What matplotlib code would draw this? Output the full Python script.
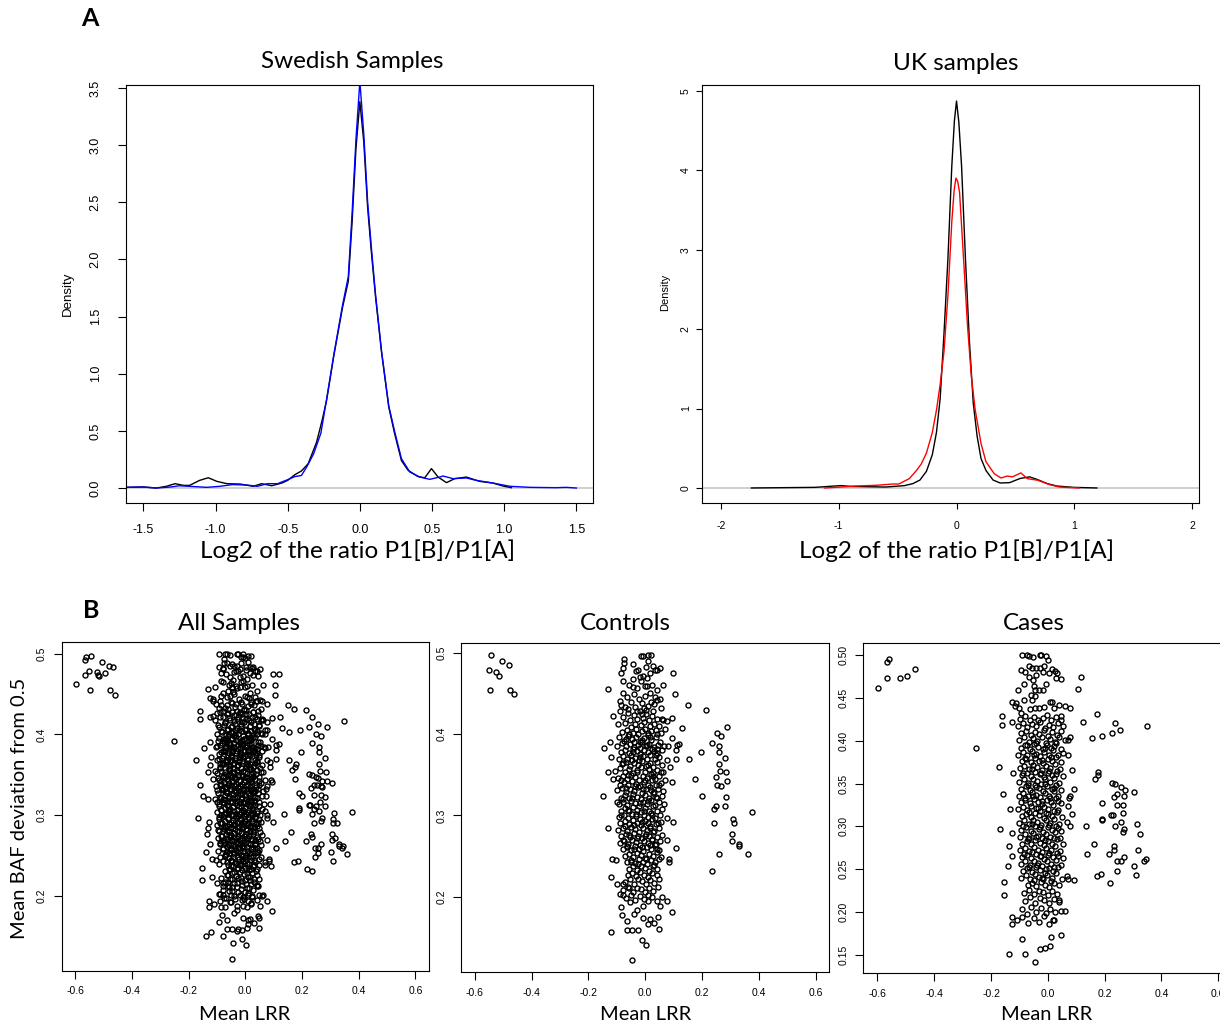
import matplotlib.pyplot as plt

W, H = 1220, 1028
plt.rcParams['font.family'] = ['Liberation Sans', 'DejaVu Sans']
TXT = ['Lato', 'DejaVu Sans']

# ---------------- panel A : density of log2 ratio ----------------
swe_black_x = [-1.70, -1.615, -1.50, -1.41, -1.34, -1.28, -1.22, -1.18, -1.11, -1.05, -0.99, -0.92,
               -0.83, -0.74, -0.68, -0.61, -0.54, -0.50, -0.45, -0.405, -0.358, -0.30, -0.26, -0.23,
               -0.18, -0.12, -0.08, -0.054, -0.027, 0.0, 0.027, 0.054, 0.08, 0.108, 0.15, 0.20, 0.24,
               0.288, 0.334, 0.403, 0.45, 0.496, 0.542, 0.60, 0.657, 0.738, 0.83, 0.92, 0.99, 1.05]
swe_black_y = [0.006, 0.006, 0.009, 0.0, 0.015, 0.038, 0.023, 0.023, 0.067, 0.09, 0.058, 0.038,
               0.035, 0.015, 0.038, 0.02, 0.044, 0.067, 0.117, 0.149, 0.213, 0.40, 0.60, 0.77,
               1.16, 1.58, 1.81, 2.32, 2.97, 3.38, 3.03, 2.45, 2.06, 1.68, 1.19, 0.71, 0.48,
               0.24, 0.155, 0.10, 0.09, 0.17, 0.096, 0.047, 0.082, 0.096, 0.058, 0.044, 0.018, 0.003]
swe_blue_x = [-1.70, -1.615, -1.50, -1.41, -1.31, -1.25, -1.18, -1.06, -0.97, -0.88, -0.78, -0.71,
              -0.64, -0.57, -0.50, -0.45, -0.405, -0.37, -0.32, -0.27, -0.23, -0.18, -0.12, -0.08,
              -0.054, -0.027, 0.0, 0.027, 0.054, 0.08, 0.108, 0.15, 0.20, 0.24, 0.288, 0.346, 0.415,
              0.484, 0.553, 0.576, 0.646, 0.738, 0.807, 0.92, 1.04, 1.18, 1.36, 1.43, 1.50]
swe_blue_y = [0.006, 0.006, 0.009, 0.0, 0.009, 0.02, 0.015, 0.006, 0.015, 0.03, 0.026, 0.015,
              0.038, 0.038, 0.073, 0.10, 0.11, 0.18, 0.30, 0.48, 0.78, 1.17, 1.60, 1.85,
              2.40, 3.05, 3.56, 3.10, 2.50, 2.10, 1.70, 1.20, 0.72, 0.50, 0.257, 0.14, 0.096,
              0.076, 0.096, 0.105, 0.082, 0.088, 0.067, 0.044, 0.015, 0.006, 0.003, 0.006, 0.0]

uk_black_x = [-1.74, -1.2, -0.98, -0.9, -0.6, -0.44, -0.37, -0.31, -0.255, -0.205, -0.17, -0.139,
              -0.106, -0.073, -0.04, -0.018, 0.0, 0.02, 0.043, 0.076, 0.109, 0.142, 0.175, 0.208,
              0.25, 0.31, 0.37, 0.45, 0.54, 0.62, 0.68, 0.77, 0.85, 0.99, 1.19]
uk_black_y = [0.0, 0.008, 0.03, 0.02, 0.012, 0.03, 0.055, 0.10, 0.21, 0.42, 0.70, 1.12,
              1.95, 2.88, 4.05, 4.62, 4.87, 4.60, 4.05, 2.88, 1.86, 1.07, 0.65, 0.37,
              0.22, 0.10, 0.063, 0.067, 0.12, 0.14, 0.11, 0.055, 0.025, 0.008, 0.0]
uk_red_x = [-1.12, -1.0, -0.85, -0.68, -0.54, -0.49, -0.40, -0.34, -0.30, -0.255, -0.205, -0.17,
            -0.139, -0.106, -0.073, -0.04, -0.02, -0.005, 0.01, 0.026, 0.06, 0.093, 0.126, 0.159,
            0.208, 0.25, 0.32, 0.377, 0.43, 0.475, 0.546, 0.60, 0.69, 0.79, 0.87, 0.92, 1.04]
uk_red_y = [0.0, 0.01, 0.025, 0.034, 0.05, 0.05, 0.118, 0.22, 0.30, 0.44, 0.70, 0.98,
            1.30, 1.72, 2.42, 3.35, 3.75, 3.90, 3.86, 3.72, 2.88, 2.05, 1.40, 0.98,
            0.56, 0.33, 0.18, 0.126, 0.15, 0.14, 0.19, 0.118, 0.097, 0.042, 0.013, 0.008, 0.0]

# ---------------- panel B : mean LRR vs mean BAF deviation ----------------
ctrl_pts = [
    # far left group
    (-0.544, 0.497), (-0.504, 0.490), (-0.479, 0.485), (-0.550, 0.479), (-0.524, 0.477),
    (-0.515, 0.472), (-0.547, 0.455), (-0.478, 0.455), (-0.461, 0.449),
    # right side
    (0.099, 0.475), (0.105, 0.449), (0.149, 0.436), (0.214, 0.430), (0.128, 0.408), (0.288, 0.409),
    (0.251, 0.401), (0.267, 0.398), (0.236, 0.389), (0.261, 0.385), (0.261, 0.378), (0.196, 0.378),
    (0.280, 0.371), (0.155, 0.369), (0.260, 0.363), (0.263, 0.355), (0.286, 0.354), (0.249, 0.347),
    (0.289, 0.342), (0.252, 0.338), (0.268, 0.336), (0.175, 0.345), (0.201, 0.324), (0.283, 0.323),
    (0.241, 0.308), (0.248, 0.311), (0.282, 0.311), (0.377, 0.304), (0.310, 0.295), (0.311, 0.290),
    (0.242, 0.291), (0.305, 0.277), (0.305, 0.269), (0.330, 0.265), (0.330, 0.262), (0.258, 0.253),
    (0.360, 0.252), (0.234, 0.231), (0.107, 0.260), (0.099, 0.292), (0.075, 0.297), (0.077, 0.270),
    (0.082, 0.246), (0.082, 0.243), (0.093, 0.341), (0.108, 0.381), (0.110, 0.387), (0.120, 0.388),
    (0.108, 0.370), (0.093, 0.395), (0.093, 0.420), (0.060, 0.419), (0.077, 0.416), (0.063, 0.461),
    (0.042, 0.479), (0.052, 0.481), (0.081, 0.385), (0.063, 0.353), (0.087, 0.360), (0.077, 0.194),
    (0.095, 0.181), (0.052, 0.188), (0.047, 0.160), (0.046, 0.175), (0.030, 0.167),
    # left edge and bottom of the cloud
    (-0.150, 0.324), (-0.146, 0.383), (-0.132, 0.456), (-0.130, 0.284), (-0.124, 0.391),
    (-0.115, 0.423), (-0.121, 0.156), (-0.119, 0.224), (-0.130, 0.354), (-0.116, 0.246),
    (-0.103, 0.245), (-0.101, 0.317), (-0.113, 0.345), (-0.121, 0.372), (-0.099, 0.216),
    (-0.089, 0.203), (-0.087, 0.187), (-0.081, 0.177), (-0.066, 0.170), (-0.066, 0.159),
    (-0.048, 0.122), (-0.011, 0.147), (0.002, 0.140), (-0.025, 0.159), (-0.047, 0.159),
    (-0.028, 0.183), (-0.077, 0.202), (-0.077, 0.216), (-0.056, 0.211), (-0.054, 0.193),
    (-0.040, 0.179), (-0.007, 0.173), (0.016, 0.172), (0.011, 0.166), (-0.007, 0.188), (0.011, 0.194),
    # top of the cloud
    (-0.080, 0.482), (-0.075, 0.488), (-0.074, 0.493), (-0.087, 0.476), (-0.045, 0.487), (-0.031, 0.478),
    (-0.025, 0.479), (-0.016, 0.496), (-0.007, 0.496), (0.011, 0.497), (0.019, 0.497), (0.011, 0.490),
    (0.026, 0.484), (0.034, 0.479), (0.006, 0.469), (-0.009, 0.472), (-0.042, 0.468), (0.003, 0.483),
    (-0.020, 0.471), (0.015, 0.476),
    (-0.080, 0.465), (-0.077, 0.451), (-0.058, 0.461), (-0.001, 0.459), (0.007, 0.460), (0.025, 0.461),
    (0.040, 0.454), (0.043, 0.442), (0.051, 0.443), (-0.065, 0.446), (-0.050, 0.440), (-0.040, 0.450),
    (-0.030, 0.457), (-0.022, 0.444), (-0.012, 0.438), (0.000, 0.447), (0.015, 0.451), (0.030, 0.437),
    (-0.070, 0.433), (-0.085, 0.436), (-0.060, 0.431), (-0.035, 0.434), (-0.005, 0.432), (0.020, 0.440),
    (0.035, 0.446), (-0.015, 0.465), (-0.090, 0.441), (0.055, 0.432), (0.010, 0.435), (-0.045, 0.458),
    # dense core
    (-0.088, 0.428), (-0.078, 0.421), (-0.070, 0.414), (-0.066, 0.405), (-0.060, 0.426), (-0.054, 0.418),
    (-0.050, 0.409), (-0.045, 0.402), (-0.040, 0.424), (-0.036, 0.413), (-0.032, 0.406), (-0.028, 0.419),
    (-0.024, 0.400), (-0.020, 0.428), (-0.016, 0.411), (-0.012, 0.404), (-0.008, 0.420), (-0.004, 0.415),
    (0.000, 0.407), (0.004, 0.425), (0.008, 0.401), (0.012, 0.418), (0.016, 0.410), (0.020, 0.404),
    (0.024, 0.422), (0.030, 0.413), (0.036, 0.405), (0.042, 0.419), (0.048, 0.410), (0.055, 0.402),
    (0.063, 0.418), (-0.083, 0.403), (-0.057, 0.400), (-0.030, 0.429), (0.002, 0.430), (0.028, 0.428),
    (0.070, 0.406), (-0.095, 0.412), (-0.010, 0.425), (0.040, 0.400),
    (-0.092, 0.396), (-0.075, 0.392), (-0.060, 0.398), (-0.048, 0.394), (-0.033, 0.397), (-0.020, 0.391),
    (-0.006, 0.395), (0.008, 0.399), (0.021, 0.393), (0.036, 0.397), (0.052, 0.391),
    (-0.100, 0.386), (-0.083, 0.389), (-0.068, 0.385), (-0.055, 0.388), (-0.041, 0.384), (-0.027, 0.387),
    (-0.013, 0.390), (0.001, 0.385), (0.014, 0.388), (0.029, 0.384), (0.045, 0.387), (0.065, 0.385),
    (-0.086, 0.378), (-0.072, 0.381), (-0.058, 0.377), (-0.045, 0.382), (-0.030, 0.379), (-0.017, 0.376),
    (-0.003, 0.381), (0.010, 0.378), (0.024, 0.382), (0.040, 0.377), (0.058, 0.380),
    (-0.094, 0.370), (-0.079, 0.373), (-0.064, 0.369), (-0.050, 0.374), (-0.037, 0.371), (-0.023, 0.368),
    (-0.009, 0.373), (0.005, 0.370), (0.018, 0.375), (0.033, 0.369), (0.049, 0.372), (0.075, 0.368),
    (-0.082, 0.363), (-0.067, 0.366), (-0.053, 0.361), (-0.040, 0.365), (-0.026, 0.362), (-0.012, 0.367),
    (0.002, 0.361), (0.015, 0.364), (0.028, 0.360), (0.043, 0.366), (0.060, 0.362),
    (-0.105, 0.355), (-0.088, 0.358), (-0.071, 0.353), (-0.057, 0.357), (-0.043, 0.352), (-0.029, 0.356),
    (-0.015, 0.359), (-0.001, 0.354), (0.012, 0.357), (0.026, 0.352), (0.041, 0.356), (0.056, 0.353),
    (-0.095, 0.346), (-0.078, 0.349), (-0.063, 0.345), (-0.049, 0.350), (-0.035, 0.347), (-0.021, 0.344),
    (-0.007, 0.349), (0.007, 0.346), (0.020, 0.351), (0.034, 0.345), (0.050, 0.348), (0.068, 0.344),
    (-0.090, 0.338), (-0.074, 0.341), (-0.060, 0.337), (-0.046, 0.342), (-0.032, 0.339), (-0.018, 0.336),
    (-0.004, 0.341), (0.009, 0.338), (0.022, 0.343), (0.037, 0.337), (0.054, 0.340),
    (-0.098, 0.331), (-0.082, 0.334), (-0.067, 0.329), (-0.053, 0.333), (-0.039, 0.330), (-0.025, 0.335),
    (-0.011, 0.328), (0.003, 0.332), (0.016, 0.335), (0.030, 0.329), (0.045, 0.333), (0.062, 0.330),
    (-0.087, 0.322), (-0.071, 0.325), (-0.057, 0.321), (-0.043, 0.326), (-0.029, 0.323), (-0.015, 0.320),
    (-0.001, 0.325), (0.012, 0.322), (0.026, 0.327), (0.041, 0.321), (0.058, 0.324),
    (-0.094, 0.314), (-0.079, 0.317), (-0.064, 0.313), (-0.050, 0.318), (-0.036, 0.315), (-0.022, 0.312),
    (-0.008, 0.317), (0.006, 0.314), (0.019, 0.319), (0.033, 0.313), (0.048, 0.316), (0.066, 0.314),
    (-0.085, 0.306), (-0.070, 0.309), (-0.056, 0.305), (-0.042, 0.310), (-0.028, 0.307), (-0.014, 0.304),
    (0.000, 0.309), (0.013, 0.306), (0.027, 0.311), (0.042, 0.305), (0.060, 0.308),
    (-0.092, 0.298), (-0.076, 0.301), (-0.062, 0.297), (-0.048, 0.302), (-0.034, 0.299), (-0.020, 0.296),
    (-0.006, 0.301), (0.008, 0.298), (0.021, 0.303), (0.035, 0.297), (0.051, 0.300),
    (-0.088, 0.290), (-0.073, 0.293), (-0.058, 0.289), (-0.044, 0.294), (-0.030, 0.291), (-0.016, 0.288),
    (-0.002, 0.293), (0.011, 0.290), (0.024, 0.295), (0.039, 0.289), (0.056, 0.292),
    (-0.095, 0.282), (-0.080, 0.285), (-0.065, 0.281), (-0.051, 0.286), (-0.037, 0.283), (-0.023, 0.280),
    (-0.009, 0.285), (0.005, 0.282), (0.018, 0.287), (0.032, 0.281), (0.047, 0.284),
    (-0.084, 0.274), (-0.069, 0.277), (-0.055, 0.273), (-0.041, 0.278), (-0.027, 0.275), (-0.013, 0.272),
    (0.001, 0.277), (0.014, 0.274), (0.028, 0.279), (0.043, 0.273), (0.059, 0.276),
    (-0.090, 0.266), (-0.075, 0.269), (-0.061, 0.265), (-0.047, 0.270), (-0.033, 0.267), (-0.019, 0.264),
    (-0.005, 0.269), (0.009, 0.266), (0.022, 0.271), (0.036, 0.265), (0.052, 0.268),
    (-0.078, 0.258), (-0.063, 0.261), (-0.049, 0.257), (-0.035, 0.262), (-0.021, 0.259), (-0.007, 0.256),
    (0.007, 0.261), (0.020, 0.258), (0.034, 0.263), (0.049, 0.257),
    (-0.072, 0.250), (-0.057, 0.253), (-0.043, 0.249), (-0.029, 0.254), (-0.015, 0.251), (-0.001, 0.248),
    (0.013, 0.253), (0.026, 0.250), (0.041, 0.255), (0.055, 0.249),
    (-0.065, 0.242), (-0.050, 0.245), (-0.036, 0.241), (-0.022, 0.246), (-0.008, 0.243), (0.006, 0.240),
    (0.020, 0.245), (0.035, 0.242), (0.050, 0.246),
    (-0.058, 0.234), (-0.043, 0.237), (-0.029, 0.233), (-0.015, 0.238), (-0.001, 0.235), (0.013, 0.232),
    (0.027, 0.237), (0.042, 0.234),
    (-0.062, 0.226), (-0.047, 0.229), (-0.033, 0.225), (-0.019, 0.230), (-0.005, 0.227), (0.009, 0.224),
    (0.023, 0.229), (0.040, 0.226),
    (-0.070, 0.218), (-0.055, 0.221), (-0.040, 0.216), (-0.026, 0.222), (-0.012, 0.219), (0.002, 0.215),
    (0.016, 0.220), (0.032, 0.217), (0.048, 0.221),
    (-0.078, 0.208), (-0.060, 0.212), (-0.045, 0.206), (-0.030, 0.211), (-0.016, 0.209), (-0.002, 0.205),
    (0.012, 0.210), (0.028, 0.207), (0.045, 0.212),
    (-0.068, 0.198), (-0.050, 0.202), (-0.035, 0.196), (-0.020, 0.201), (-0.004, 0.197), (0.010, 0.202),
    (0.025, 0.199), (0.040, 0.195), (0.060, 0.200),
    # extra overlap in the densest part
    (-0.067, 0.394), (-0.040, 0.390), (-0.013, 0.393), (0.015, 0.396), (0.042, 0.382),
    (-0.078, 0.365), (-0.046, 0.368), (-0.019, 0.372), (0.009, 0.362), (0.037, 0.374),
    (-0.060, 0.350), (-0.028, 0.353), (0.000, 0.344), (0.027, 0.348), (-0.085, 0.343),
    (-0.068, 0.334), (-0.036, 0.336), (-0.008, 0.333), (0.021, 0.331), (0.048, 0.338),
    (-0.077, 0.320), (-0.047, 0.322), (-0.020, 0.315), (0.008, 0.318), (0.036, 0.323),
    (-0.062, 0.307), (-0.033, 0.302), (-0.005, 0.305), (0.024, 0.300), (-0.085, 0.300),
    (-0.070, 0.287), (-0.040, 0.288), (-0.012, 0.292), (0.016, 0.285), (0.044, 0.290),
    (-0.058, 0.276), (-0.030, 0.272), (-0.002, 0.274), (0.025, 0.270), (-0.080, 0.270),
    (-0.066, 0.262), (-0.038, 0.258), (-0.010, 0.261), (0.018, 0.264), (0.040, 0.259),
    (-0.052, 0.243), (-0.024, 0.240), (0.004, 0.246), (0.030, 0.239),
    (-0.045, 0.378), (-0.020, 0.383), (0.005, 0.387), (0.030, 0.379),
]

case_pts = [
    # far left group
    (-0.598, 0.462), (-0.566, 0.492), (-0.560, 0.496), (-0.566, 0.473), (-0.521, 0.473),
    (-0.495, 0.476), (-0.468, 0.484),
    # left edge and bottom
    (-0.253, 0.392), (-0.173, 0.369), (-0.161, 0.429), (-0.161, 0.419), (-0.159, 0.338), (-0.167, 0.297),
    (-0.153, 0.235), (-0.153, 0.220), (-0.137, 0.151), (-0.128, 0.194), (-0.128, 0.186), (-0.126, 0.422),
    (-0.123, 0.362), (-0.132, 0.320), (-0.128, 0.292), (-0.136, 0.277), (-0.126, 0.265), (-0.140, 0.254),
    (-0.092, 0.168), (-0.079, 0.151), (-0.044, 0.142), (-0.028, 0.157), (-0.011, 0.158), (0.006, 0.160),
    (0.011, 0.171), (0.019, 0.190), (0.047, 0.173), (0.047, 0.201), (0.062, 0.201), (0.040, 0.214),
    (0.071, 0.238), (0.092, 0.237), (0.068, 0.242),
    # right side
    (0.118, 0.475), (0.106, 0.461), (0.124, 0.422), (0.078, 0.405), (0.071, 0.401), (0.071, 0.383),
    (0.086, 0.366), (0.092, 0.344), (0.077, 0.336), (0.074, 0.333), (0.072, 0.324), (0.086, 0.314),
    (0.068, 0.305), (0.077, 0.300), (0.136, 0.301), (0.163, 0.279), (0.139, 0.268), (0.173, 0.431),
    (0.156, 0.403), (0.192, 0.406), (0.225, 0.409), (0.235, 0.421), (0.255, 0.413), (0.348, 0.417),
    (0.178, 0.364), (0.175, 0.360), (0.166, 0.356), (0.226, 0.351), (0.237, 0.350), (0.258, 0.346),
    (0.271, 0.343), (0.305, 0.340), (0.242, 0.338), (0.232, 0.334), (0.269, 0.335), (0.191, 0.327),
    (0.244, 0.325), (0.266, 0.325), (0.224, 0.313), (0.228, 0.313), (0.264, 0.316), (0.189, 0.309),
    (0.190, 0.307), (0.259, 0.305), (0.314, 0.303), (0.236, 0.301), (0.269, 0.297), (0.266, 0.293),
    (0.324, 0.291), (0.233, 0.277), (0.234, 0.273), (0.316, 0.272), (0.216, 0.268), (0.268, 0.264),
    (0.258, 0.260), (0.245, 0.259), (0.346, 0.262), (0.340, 0.260), (0.302, 0.254), (0.245, 0.248),
    (0.309, 0.243), (0.172, 0.242), (0.186, 0.244), (0.219, 0.234),
    # top of the cloud
    (-0.091, 0.500), (-0.073, 0.500), (-0.065, 0.499), (-0.053, 0.498), (-0.029, 0.500), (-0.024, 0.500),
    (-0.007, 0.499), (0.000, 0.495), (-0.093, 0.483), (-0.079, 0.481), (-0.065, 0.488), (-0.055, 0.485),
    (-0.041, 0.485), (-0.028, 0.485), (-0.014, 0.488), (-0.018, 0.481), (0.004, 0.480), (0.015, 0.484),
    (0.024, 0.482), (0.033, 0.479), (0.027, 0.473), (0.045, 0.472), (-0.067, 0.475), (-0.053, 0.471),
    (-0.041, 0.477), (-0.085, 0.466), (-0.008, 0.466), (-0.105, 0.459), (-0.050, 0.464), (-0.046, 0.459),
    (-0.032, 0.460), (-0.018, 0.459), (-0.061, 0.454), (-0.044, 0.452), (-0.055, 0.448), (-0.126, 0.445),
    (-0.112, 0.444), (-0.114, 0.441), (-0.103, 0.438), (-0.094, 0.433), (-0.085, 0.448), (-0.064, 0.437),
    (-0.047, 0.439), (-0.032, 0.438), (-0.014, 0.440), (0.006, 0.446), (0.013, 0.445), (0.021, 0.438),
    (0.039, 0.442), (0.059, 0.441), (0.078, 0.438), (0.045, 0.429),
    # dense core
    (-0.098, 0.426), (-0.080, 0.429), (-0.064, 0.425), (-0.048, 0.428), (-0.033, 0.424), (-0.018, 0.427),
    (-0.003, 0.430), (0.012, 0.425), (0.028, 0.428), (0.045, 0.424),
    (-0.105, 0.418), (-0.088, 0.421), (-0.072, 0.416), (-0.057, 0.420), (-0.041, 0.417), (-0.026, 0.422),
    (-0.011, 0.415), (0.004, 0.419), (0.019, 0.416), (0.036, 0.421), (0.055, 0.418),
    (-0.093, 0.409), (-0.076, 0.412), (-0.060, 0.407), (-0.045, 0.411), (-0.030, 0.408), (-0.015, 0.413),
    (0.000, 0.406), (0.015, 0.410), (0.031, 0.407), (0.048, 0.412),
    (-0.100, 0.401), (-0.084, 0.404), (-0.068, 0.399), (-0.052, 0.403), (-0.037, 0.400), (-0.022, 0.405),
    (-0.007, 0.398), (0.008, 0.402), (0.024, 0.399), (0.040, 0.404), (0.060, 0.401),
    (-0.095, 0.392), (-0.079, 0.395), (-0.063, 0.391), (-0.048, 0.396), (-0.033, 0.393), (-0.018, 0.390),
    (-0.003, 0.395), (0.012, 0.392), (0.028, 0.397), (0.045, 0.391),
    (-0.104, 0.384), (-0.088, 0.387), (-0.072, 0.383), (-0.057, 0.388), (-0.042, 0.385), (-0.027, 0.382),
    (-0.012, 0.387), (0.003, 0.384), (0.019, 0.389), (0.036, 0.383), (0.055, 0.386),
    (-0.092, 0.376), (-0.076, 0.379), (-0.061, 0.375), (-0.046, 0.380), (-0.031, 0.377), (-0.016, 0.374),
    (-0.001, 0.379), (0.014, 0.376), (0.030, 0.381), (0.048, 0.375),
    (-0.099, 0.368), (-0.083, 0.371), (-0.067, 0.367), (-0.052, 0.372), (-0.037, 0.369), (-0.022, 0.366),
    (-0.007, 0.371), (0.008, 0.368), (0.024, 0.373), (0.042, 0.367),
    (-0.090, 0.360), (-0.074, 0.363), (-0.059, 0.359), (-0.044, 0.364), (-0.029, 0.361), (-0.014, 0.358),
    (0.001, 0.363), (0.016, 0.360), (0.033, 0.365), (0.052, 0.359),
    (-0.101, 0.352), (-0.085, 0.355), (-0.069, 0.351), (-0.054, 0.356), (-0.039, 0.353), (-0.024, 0.350),
    (-0.009, 0.355), (0.006, 0.352), (0.022, 0.357), (0.039, 0.351),
    (-0.094, 0.344), (-0.078, 0.347), (-0.062, 0.343), (-0.047, 0.348), (-0.032, 0.345), (-0.017, 0.342),
    (-0.002, 0.347), (0.013, 0.344), (0.029, 0.349), (0.047, 0.343),
    (-0.103, 0.336), (-0.087, 0.339), (-0.071, 0.335), (-0.056, 0.340), (-0.041, 0.337), (-0.026, 0.334),
    (-0.011, 0.339), (0.004, 0.336), (0.020, 0.341), (0.037, 0.335),
    (-0.096, 0.328), (-0.080, 0.331), (-0.064, 0.327), (-0.049, 0.332), (-0.034, 0.329), (-0.019, 0.326),
    (-0.004, 0.331), (0.011, 0.328), (0.027, 0.333), (0.045, 0.327),
    (-0.105, 0.320), (-0.089, 0.323), (-0.073, 0.319), (-0.058, 0.324), (-0.043, 0.321), (-0.028, 0.318),
    (-0.013, 0.323), (0.002, 0.320), (0.018, 0.325), (0.035, 0.319),
    (-0.092, 0.312), (-0.076, 0.315), (-0.060, 0.311), (-0.045, 0.316), (-0.030, 0.313), (-0.015, 0.310),
    (0.000, 0.315), (0.015, 0.312), (0.031, 0.317), (0.050, 0.311),
    (-0.100, 0.304), (-0.084, 0.307), (-0.068, 0.303), (-0.053, 0.308), (-0.038, 0.305), (-0.023, 0.302),
    (-0.008, 0.307), (0.007, 0.304), (0.023, 0.309), (0.041, 0.303),
    (-0.093, 0.296), (-0.077, 0.299), (-0.061, 0.295), (-0.046, 0.300), (-0.031, 0.297), (-0.016, 0.294),
    (-0.001, 0.299), (0.014, 0.296), (0.030, 0.301), (0.048, 0.295),
    (-0.098, 0.288), (-0.082, 0.291), (-0.066, 0.287), (-0.051, 0.292), (-0.036, 0.289), (-0.021, 0.286),
    (-0.006, 0.291), (0.009, 0.288), (0.025, 0.293), (0.043, 0.287),
    (-0.091, 0.280), (-0.075, 0.283), (-0.059, 0.279), (-0.044, 0.284), (-0.029, 0.281), (-0.014, 0.278),
    (0.001, 0.283), (0.016, 0.280), (0.032, 0.285), (0.052, 0.279),
    (-0.097, 0.272), (-0.081, 0.275), (-0.065, 0.271), (-0.050, 0.276), (-0.035, 0.273), (-0.020, 0.270),
    (-0.005, 0.275), (0.010, 0.272), (0.026, 0.277), (0.044, 0.271),
    (-0.090, 0.264), (-0.074, 0.267), (-0.058, 0.263), (-0.043, 0.268), (-0.028, 0.265), (-0.013, 0.262),
    (0.002, 0.267), (0.017, 0.264), (0.033, 0.269), (0.055, 0.263),
    (-0.096, 0.256), (-0.080, 0.259), (-0.064, 0.255), (-0.049, 0.260), (-0.034, 0.257), (-0.019, 0.254),
    (-0.004, 0.259), (0.011, 0.256), (0.027, 0.261), (0.046, 0.255),
    (-0.088, 0.248), (-0.072, 0.251), (-0.056, 0.247), (-0.041, 0.252), (-0.026, 0.249), (-0.011, 0.246),
    (0.004, 0.251), (0.019, 0.248), (0.036, 0.253),
    (-0.094, 0.240), (-0.078, 0.243), (-0.062, 0.239), (-0.047, 0.244), (-0.032, 0.241), (-0.017, 0.238),
    (-0.002, 0.243), (0.013, 0.240), (0.030, 0.245), (0.050, 0.239),
    (-0.070, 0.231), (-0.055, 0.234), (-0.040, 0.230), (-0.025, 0.235), (-0.010, 0.232), (0.005, 0.229),
    (0.020, 0.234), (0.038, 0.231),
    (-0.085, 0.222), (-0.065, 0.226), (-0.048, 0.221), (-0.032, 0.225), (-0.016, 0.223), (0.000, 0.220),
    (0.016, 0.224), (0.032, 0.221),
    (-0.080, 0.213), (-0.062, 0.217), (-0.045, 0.211), (-0.028, 0.216), (-0.012, 0.214), (0.005, 0.210),
    (0.022, 0.215), (0.040, 0.212),
    (-0.092, 0.203), (-0.075, 0.198), (-0.058, 0.206), (-0.040, 0.200), (-0.025, 0.205), (-0.008, 0.199),
    (0.008, 0.204), (0.025, 0.200),
    (-0.110, 0.190), (-0.090, 0.194), (-0.070, 0.187), (-0.050, 0.193), (-0.030, 0.188), (-0.012, 0.195),
    (0.005, 0.186), (0.022, 0.191),
    # extra overlap in the densest part
    (-0.072, 0.395), (-0.041, 0.398), (-0.010, 0.392), (0.020, 0.394),
    (-0.080, 0.380), (-0.050, 0.384), (-0.020, 0.378), (0.010, 0.381),
    (-0.088, 0.363), (-0.055, 0.367), (-0.025, 0.362), (0.005, 0.365), (0.030, 0.361),
    (-0.070, 0.349), (-0.040, 0.346), (-0.010, 0.350), (0.020, 0.345),
    (-0.082, 0.333), (-0.052, 0.336), (-0.022, 0.330), (0.008, 0.333), (0.035, 0.330),
    (-0.066, 0.317), (-0.036, 0.321), (-0.006, 0.316), (0.022, 0.318),
    (-0.086, 0.300), (-0.056, 0.303), (-0.026, 0.299), (0.004, 0.302), (0.034, 0.298),
    (-0.070, 0.285), (-0.040, 0.288), (-0.010, 0.284), (0.020, 0.287),
    (-0.085, 0.268), (-0.055, 0.270), (-0.025, 0.266), (0.005, 0.269), (0.035, 0.265),
    (-0.068, 0.252), (-0.038, 0.255), (-0.008, 0.250), (0.022, 0.253),
    (-0.050, 0.237), (-0.020, 0.240), (0.010, 0.236),
]

lrr_ticks = [-0.6, -0.4, -0.2, 0.0, 0.2, 0.4, 0.6]
lrr_labels = ['-0.6', '-0.4', '-0.2', '0.0', '0.2', '0.4', '0.6']

fig = plt.figure(figsize=(W / 100, H / 100), dpi=100)


def px_axes(l, t, r, b):
    return fig.add_axes([l / W, 1 - b / H, (r - l) / W, (b - t) / H])


def px_text(x, y, s, size, **kw):
    fig.text(x / W, 1 - y / H, s, ha='center', va='center', fontsize=size, **kw)


def r_style(ax, xt, xl, yt, yl, size, tlen, xpad, ypad):
    ax.set_xticks(xt)
    ax.set_xticklabels(xl)
    ax.set_yticks(yt)
    ax.set_yticklabels(yl)
    for s in ax.spines.values():
        s.set_linewidth(0.8)
    ax.tick_params(direction='out', length=tlen, width=0.8, labelsize=size)
    ax.tick_params(axis='x', pad=xpad)
    ax.tick_params(axis='y', pad=ypad)
    for lab in ax.get_yticklabels():
        lab.set_rotation(90)
        lab.set_va('center')


# Swedish
ax1 = px_axes(126, 85, 593, 503)
ax1.axhline(0, color='#cccccc', lw=1.3)
ax1.plot(swe_black_x, swe_black_y, color='black', lw=1.0)
ax1.plot(swe_blue_x, swe_blue_y, color='#0000ff', lw=1.0)
ax1.set_xlim(-1.62, 1.615)
ax1.set_ylim(-0.131, 3.526)
r_style(ax1, [-1.5, -1.0, -0.5, 0.0, 0.5, 1.0, 1.5], ['-1.5', '-1.0', '-0.5', '0.0', '0.5', '1.0', '1.5'],
        [0, 0.5, 1, 1.5, 2, 2.5, 3, 3.5], ['0.0', '0.5', '1.0', '1.5', '2.0', '2.5', '3.0', '3.5'],
        9, 5.5, 9.5, 12)

# UK
ax2 = px_axes(702, 85, 1199, 503)
ax2.axhline(0, color='#cccccc', lw=1.3)
ax2.plot(uk_black_x, uk_black_y, color='black', lw=1.0)
ax2.plot(uk_red_x, uk_red_y, color='#ff0000', lw=1.0)
ax2.set_xlim(-2.159, 2.057)
ax2.set_ylim(-0.189, 5.072)
r_style(ax2, [-2, -1, 0, 1, 2], ['-2', '-1', '0', '1', '2'],
        [0, 1, 2, 3, 4, 5], ['0', '1', '2', '3', '4', '5'], 7.5, 4, 9, 4)

px_text(90, 19, 'A', 18, family=TXT, weight='bold')
px_text(352, 62, 'Swedish Samples', 17.5, family=TXT)
px_text(956, 63, 'UK samples', 17.5, family=TXT)
px_text(358, 551, 'Log2 of the ratio P1[B]/P1[A]', 17.5, family=TXT)
px_text(957, 551, 'Log2 of the ratio P1[B]/P1[A]', 17.5, family=TXT)
px_text(68, 294, 'Density', 9.5, rotation=90)
px_text(665, 292, 'Density', 8, rotation=90)

# scatter panels
all_pts = ctrl_pts + case_pts
panels = [
    (all_pts, (61.5, 642, 429, 970.5), (-0.648, 0.648), (0.108, 0.5144),
     [0.2, 0.3, 0.4, 0.5], ['0.2', '0.3', '0.4', '0.5']),
    (ctrl_pts, (461, 643, 829, 972), (-0.649, 0.647), (0.107, 0.5124),
     [0.2, 0.3, 0.4, 0.5], ['0.2', '0.3', '0.4', '0.5']),
    (case_pts, (863, 643, 1231, 973), (-0.651, 0.645), (0.1286, 0.5145),
     [0.15, 0.2, 0.25, 0.3, 0.35, 0.4, 0.45, 0.5], ['0.15', '0.20', '0.25', '0.30', '0.35', '0.40', '0.45', '0.50']),
]
for pts, box, xl, yl, yt, ytl in panels:
    ax = px_axes(*box)
    xs = [p[0] for p in pts]
    ys = [p[1] for p in pts]
    ax.plot(xs, ys, 'o', mfc='none', mec='black', ms=3.6, mew=1.0, linestyle='none')
    ax.set_xlim(*xl)
    ax.set_ylim(*yl)
    r_style(ax, lrr_ticks, lrr_labels, yt, ytl, 7.5, 5.5, 6, 5)

px_text(91, 611, 'B', 18, family=TXT, weight='bold')
px_text(239, 623, 'All Samples', 17.5, family=TXT)
px_text(625, 623, 'Controls', 17.5, family=TXT)
px_text(1034, 623, 'Cases', 17.5, family=TXT)
for cx in (245, 646, 1047):
    px_text(cx, 1015, 'Mean LRR', 14.5, family=TXT)
px_text(20, 808, 'Mean BAF deviation from 0.5', 14.5, family=TXT, rotation=90)

fig.savefig('out.png', dpi=100)
